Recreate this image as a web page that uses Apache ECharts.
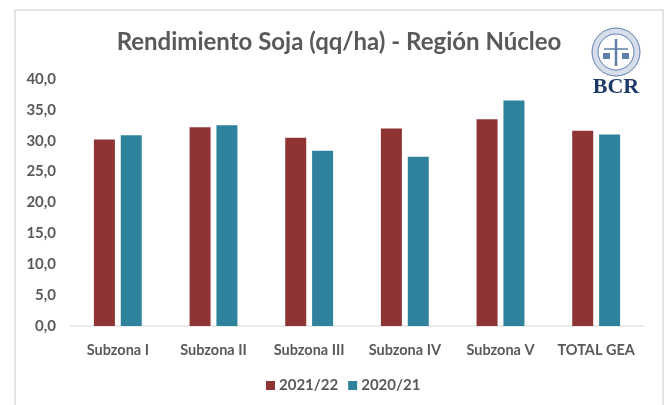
<!DOCTYPE html>
<html>
<head>
<meta charset="utf-8">
<script src="https://cdn.jsdelivr.net/npm/echarts@6/dist/echarts.min.js"></script>
<style>
  html, body { margin: 0; padding: 0; background: #fff; }
  #chart { width: 668px; height: 405px; }
</style>
</head>
<body>
<div id="chart"></div>
<script>
const categories = ["Subzona I", "Subzona II", "Subzona III", "Subzona IV", "Subzona V", "TOTAL GEA"];
const values2122 = [30.2, 32.2, 30.5, 32.0, 33.5, 31.6];
const values2021 = [30.9, 32.5, 28.4, 27.4, 36.5, 31.0];
const seriesNames = ["2021/22", "2020/21"];
const titleText = "Rendimiento Soja (qq/ha) - Región Núcleo";

const fontName = "Lato";
const textColor = "#595959";
const logoBlue = "#5f7fa6";

const chart = echarts.init(document.getElementById("chart"), null, { renderer: "canvas" });

const option = {
  backgroundColor: "#fff",
  animation: false,
  title: {
    text: titleText,
    left: 334,
    top: 25,
    textAlign: "center",
    textStyle: { fontFamily: fontName, fontSize: 24, fontWeight: "bold", color: textColor },
  },
  grid: { left: 70, right: 24, top: 79, bottom: 79 },
  legend: {
    data: seriesNames,
    bottom: 7,
    left: 261,
    itemWidth: 9,
    itemHeight: 9,
    itemGap: 10,
    icon: "rect",
    textStyle: { fontFamily: fontName, fontSize: 15, fontWeight: "bold", color: textColor, padding: [0, 0, 0, -1] },
  },
  xAxis: {
    type: "category",
    data: categories,
    axisTick: { show: false },
    axisLine: { lineStyle: { color: "#e4e4e4", width: 1.5 } },
    axisLabel: { interval: 0, fontFamily: fontName, fontSize: 14.5, fontWeight: "bold", color: textColor, margin: 17 },
  },
  yAxis: {
    type: "value",
    min: 0,
    max: 40,
    interval: 5,
    splitLine: { show: false },
    axisLine: { show: false },
    axisTick: { show: false },
    axisLabel: {
      fontFamily: fontName,
      fontSize: 15,
      fontWeight: "bold",
      color: textColor,
      margin: 14,
      formatter: (v) => v.toFixed(1).replace(".", ","),
    },
  },
  series: [
    {
      name: seriesNames[0],
      type: "bar",
      data: values2122,
      barWidth: 21,
      barGap: "28%",
      itemStyle: { color: "#8e3434" },
    },
    {
      name: seriesNames[1],
      type: "bar",
      data: values2021,
      barWidth: 21,
      itemStyle: { color: "#2e829c" },
    },
  ],
  graphic: [
    {
      type: "rect",
      silent: true,
      shape: { x: 15, y: 10, width: 648, height: 410 },
      style: { fill: "none", stroke: "#dcdcdc", lineWidth: 1.5 },
    },
    // BCR logo, simplified: seal rings, staff and scales
    {
      type: "circle",
      silent: true,
      shape: { cx: 616, cy: 52, r: 24 },
      style: { fill: "#d5deea", stroke: logoBlue, lineWidth: 1 },
    },
    {
      type: "circle",
      silent: true,
      shape: { cx: 616, cy: 52, r: 18 },
      style: { fill: "#fff", stroke: logoBlue, lineWidth: 1 },
    },
    {
      type: "line",
      silent: true,
      shape: { x1: 616, y1: 39, x2: 616, y2: 66 },
      style: { stroke: logoBlue, lineWidth: 2.5 },
    },
    {
      type: "line",
      silent: true,
      shape: { x1: 604, y1: 49, x2: 628, y2: 49 },
      style: { stroke: logoBlue, lineWidth: 1.5 },
    },
    {
      type: "rect",
      silent: true,
      shape: { x: 603, y: 53, width: 7, height: 6 },
      style: { fill: logoBlue },
    },
    {
      type: "rect",
      silent: true,
      shape: { x: 622, y: 53, width: 7, height: 6 },
      style: { fill: logoBlue },
    },
    {
      type: "text",
      silent: true,
      style: {
        x: 616, y: 87, text: "BCR", align: "center", verticalAlign: "middle",
        font: "bold 22px 'Liberation Serif'", fill: "#1d3a66",
      },
    },
  ],
};

chart.setOption(option);
</script>
</body>
</html>
